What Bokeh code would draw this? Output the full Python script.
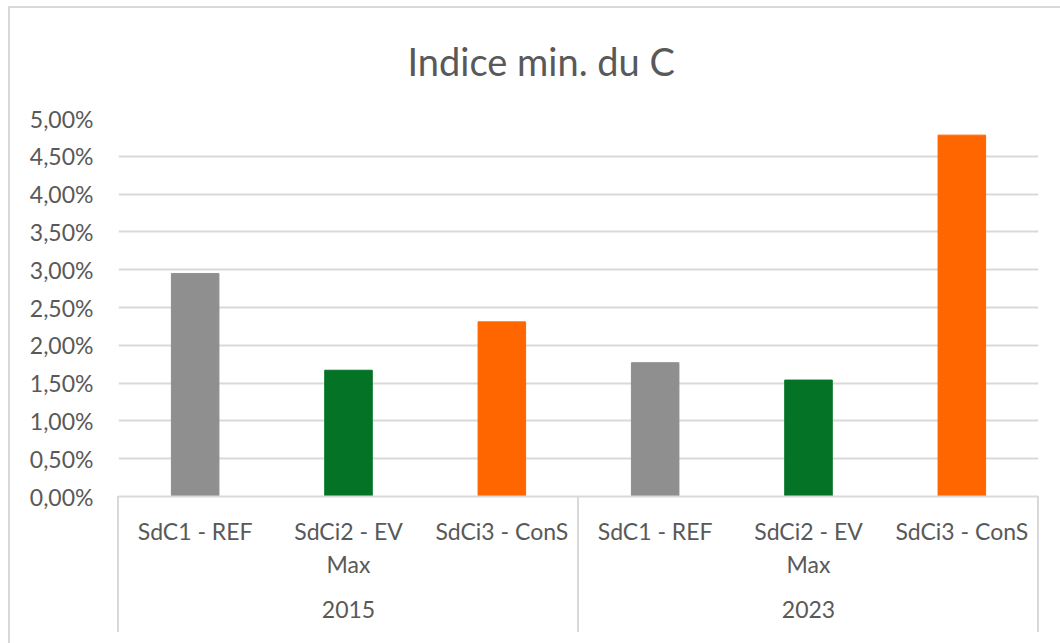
from bokeh.plotting import figure
from bokeh.models import (FactorRange, ColumnDataSource, CustomJSTickFormatter,
                          SingleIntervalTicker)
from bokeh.embed import file_html
from bokeh.resources import INLINE

# ---- data ----
years = ["2015", "2023"]
scenarios = ["SdC1 - REF", "SdCi2 - EV\nMax", "SdCi3 - ConS"]
values_2015 = [2.95, 1.67, 2.31]   # percent
values_2023 = [1.77, 1.54, 4.78]   # percent
scenario_colors = ["#8f8f8f", "#057326", "#ff6600"]
title_text = "Indice min. du C"

factors = [(y, s) for y in years for s in scenarios]
values = values_2015 + values_2023
source = ColumnDataSource(dict(
    x=factors,
    top=[v / 100 for v in values],
    color=scenario_colors * len(years),
))

TXT = "#595959"
LINE = "#d9d9d9"
FONT = "Lato"
W, H = 1060, 643
ML, MR, MT, MB = 118, 22, 118, 147

p = figure(x_range=FactorRange(*factors, group_padding=0, range_padding=0),
           y_range=(0, 0.05), width=W, height=H,
           output_backend="svg", toolbar_location=None,
           min_border_left=ML, min_border_right=MR,
           min_border_top=MT, min_border_bottom=MB)

p.vbar(x="x", top="top", width=0.31, color="color", source=source)

# title
p.title.text = title_text
p.title.align = "left"
p.title.offset = 289
p.title.standoff = 66
p.title.vertical_align = "top"
p.title.text_font = FONT
p.title.text_font_size = "38px"
p.title.text_font_style = "normal"
p.title.text_color = TXT

# y axis
p.yaxis.ticker = SingleIntervalTicker(interval=0.005, num_minor_ticks=0)
p.yaxis.formatter = CustomJSTickFormatter(
    code="return (tick*100).toFixed(2).replace('.', ',') + '%';")
p.yaxis.axis_line_color = None
p.yaxis.major_tick_line_color = None
p.yaxis.minor_tick_line_color = None
p.yaxis.major_tick_out = 0
p.yaxis.major_tick_in = 0
p.yaxis.major_label_standoff = 25
p.yaxis.major_label_text_font = FONT
p.yaxis.major_label_text_font_size = "23px"
p.yaxis.major_label_text_color = TXT

# x axis
xa = p.xaxis[0]
xa.axis_line_color = LINE
xa.axis_line_width = 2
xa.major_tick_line_color = None
xa.minor_tick_line_color = None
xa.major_tick_out = 0
xa.major_tick_in = 0
xa.major_label_standoff = 20
xa.major_label_text_font = FONT
xa.major_label_text_font_size = "23px"
xa.major_label_text_color = TXT
xa.major_label_orientation = "horizontal"
xa.group_text_font = FONT
xa.group_text_font_size = "23px"
xa.group_text_font_style = "normal"
xa.group_text_color = TXT
xa.separator_line_color = None

# grid / frame
p.xgrid.grid_line_color = None
p.ygrid.grid_line_color = LINE
p.ygrid.grid_line_width = 2
p.outline_line_color = None
p.background_fill_color = None
p.border_fill_color = None

# chart border (top & left) and the category box lines below the axis,
# painted as the figure's own background behind the transparent canvas
box_h = 136
frame_w = W - ML - MR
deco = [
    (8, 6, W - 8, 2),                        # chart border, top
    (8, 6, 2, H - 6),                        # chart border, left
    (ML - 1, H - MB, 2, box_h),              # category box, left edge
    (ML + frame_w // 2 - 1, H - MB, 2, box_h),  # group separator
    (W - MR - 1, H - MB, 2, box_h),          # category box, right edge
]
bg = ", ".join(f"linear-gradient({LINE}, {LINE}) {x}px {y}px / {w}px {h}px no-repeat"
               for x, y, w, h in deco) + ", white"
p.styles = {"background": bg}

open("out.html", "w").write(file_html(p, INLINE))
